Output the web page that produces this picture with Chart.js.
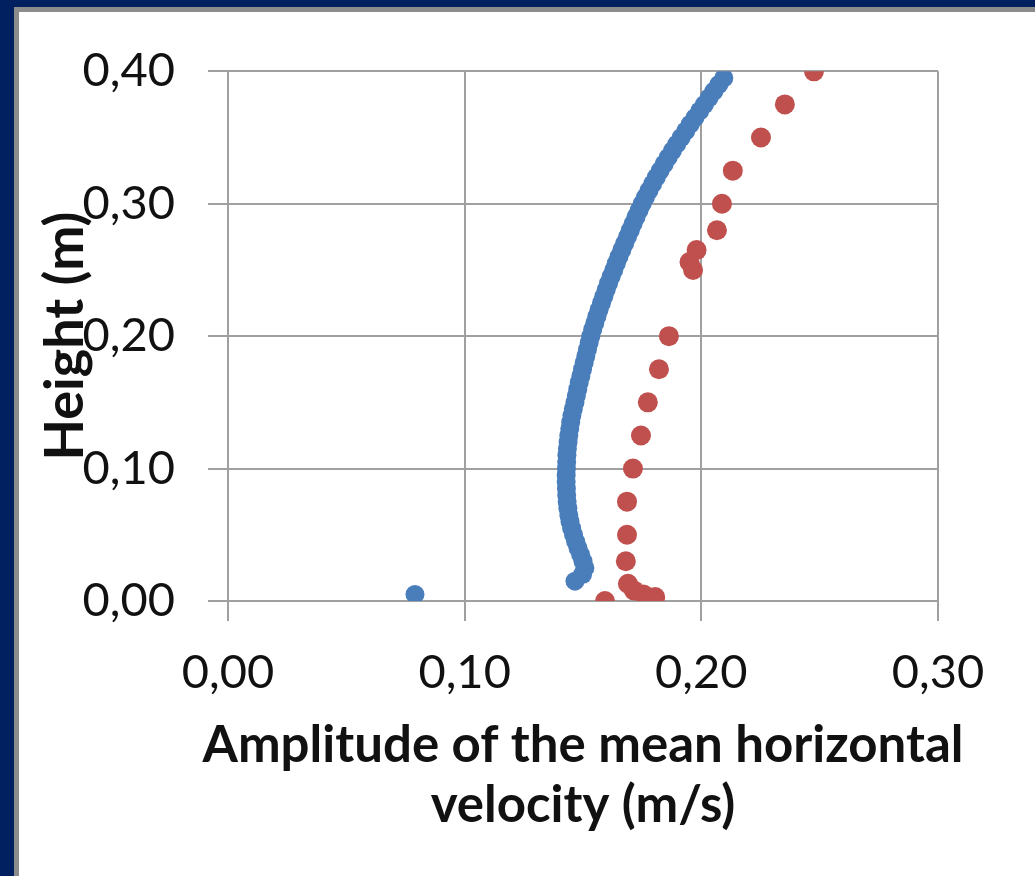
<!DOCTYPE html>
<html>
<head>
<meta charset="utf-8">
<script src="https://cdn.jsdelivr.net/npm/chart.js@4"></script>
<style>
  html, body { margin: 0; padding: 0; }
  body { width: 1035px; height: 876px; background: #002060; overflow: hidden; position: relative; }
  .panel {
    position: absolute; left: 14px; top: 7px; width: 1016px; height: 864px;
    background: #fff; border-left: 5px solid #8c8c8c; border-top: 5px solid #8c8c8c;
  }
  .wrap { position: relative; width: 1016px; height: 864px; }
</style>
</head>
<body>
<div class="panel"><div class="wrap"><canvas id="chart"></canvas></div></div>
<script>
// blue profile (dense measurement), first entry is the near-bed outlier
const blueHeight = [
  0.005, 0.015, 0.020, 0.025, 0.030, 0.035, 0.040, 0.045, 0.050, 0.055,
  0.060, 0.065, 0.070, 0.075, 0.080, 0.085, 0.090, 0.095, 0.100, 0.105,
  0.110, 0.115, 0.120, 0.125, 0.130, 0.135, 0.140, 0.145, 0.150, 0.155,
  0.160, 0.165, 0.170, 0.175, 0.180, 0.185, 0.190, 0.195, 0.200, 0.205,
  0.210, 0.215, 0.220, 0.225, 0.230, 0.235, 0.240, 0.245, 0.250, 0.255,
  0.260, 0.265, 0.270, 0.275, 0.280, 0.285, 0.290, 0.295, 0.300, 0.305,
  0.310, 0.315, 0.320, 0.325, 0.330, 0.335, 0.340, 0.345, 0.350, 0.355,
  0.360, 0.365, 0.370, 0.375, 0.380, 0.385, 0.390, 0.395
];
const blueVelocity = [
  0.0790, 0.1466, 0.1498, 0.1508, 0.1500, 0.1490, 0.1479, 0.1469, 0.1460, 0.1452,
  0.1445, 0.1440, 0.1436, 0.1433, 0.1431, 0.1430, 0.1429, 0.1429, 0.1430, 0.1431,
  0.1432, 0.1434, 0.1437, 0.1440, 0.1444, 0.1448, 0.1453, 0.1459, 0.1466, 0.1472,
  0.1478, 0.1484, 0.1491, 0.1498, 0.1505, 0.1512, 0.1519, 0.1526, 0.1533, 0.1541,
  0.1550, 0.1559, 0.1568, 0.1578, 0.1588, 0.1598, 0.1608, 0.1619, 0.1630, 0.1641,
  0.1652, 0.1664, 0.1676, 0.1688, 0.1700, 0.1712, 0.1724, 0.1737, 0.1750, 0.1764,
  0.1779, 0.1794, 0.1810, 0.1826, 0.1843, 0.1860, 0.1878, 0.1896, 0.1915, 0.1934,
  0.1953, 0.1973, 0.1993, 0.2013, 0.2033, 0.2053, 0.2074, 0.2095
];

// red profile (sparse measurement)
const redHeight = [
  0.000, 0.003, 0.005, 0.008, 0.013, 0.030, 0.050, 0.075, 0.100, 0.125,
  0.150, 0.175, 0.200, 0.250, 0.256, 0.265, 0.280, 0.300, 0.325, 0.350,
  0.375, 0.400
];
const redVelocity = [
  0.1593, 0.1805, 0.1755, 0.1715, 0.1690, 0.1681, 0.1686, 0.1686, 0.1711, 0.1745,
  0.1774, 0.1821, 0.1863, 0.1965, 0.1950, 0.1980, 0.2066, 0.2087, 0.2133, 0.2252,
  0.2353, 0.2476
];

const xTicks = [0, 0.1, 0.2, 0.3];
const yTicks = [0, 0.1, 0.2, 0.3, 0.4];

const xTitle = ["Amplitude of the mean horizontal", "velocity (m/s)"];
const yTitle = "Height (m)";

const toPoints = (xs, ys) => xs.map((x, i) => ({ x: x, y: ys[i] }));
const fmt = (v) => Number(v).toFixed(2).replace(".", ",");
const gridColor = "#a0a0a0";

// the x title is wider than the plot, so Chart.js would squeeze it; draw it here instead
const xTitlePlugin = {
  id: "xTitle",
  afterDraw(chart) {
    const { ctx, chartArea } = chart;
    const cx = (chartArea.left + chartArea.right) / 2;
    ctx.save();
    ctx.font = "bold 51px Lato";
    ctx.fillStyle = "#111";
    ctx.textAlign = "center";
    ctx.textBaseline = "alphabetic";
    xTitle.forEach((line, i) => {
      ctx.fillText(line, cx, chartArea.bottom + 161 + i * 60);
    });
    ctx.restore();
  },
};

new Chart(document.getElementById("chart"), {
  type: "scatter",
  data: {
    datasets: [
      {
        label: "blue",
        data: toPoints(blueVelocity, blueHeight),
        backgroundColor: "#4a7ebb",
        borderColor: "#4a7ebb",
        borderWidth: 0,
        pointRadius: 9.5,
        pointHoverRadius: 9.5,
      },
      {
        label: "red",
        data: toPoints(redVelocity, redHeight),
        backgroundColor: "#c0504d",
        borderColor: "#c0504d",
        borderWidth: 0,
        pointRadius: 10,
        pointHoverRadius: 10,
      },
    ],
  },
  options: {
    responsive: true,
    maintainAspectRatio: false,
    animation: false,
    layout: {
      padding: { left: 0, right: 97, top: 56, bottom: 0 },
    },
    scales: {
      x: {
        type: "linear",
        min: 0,
        max: 0.3,
        afterBuildTicks: (s) => { s.ticks = xTicks.map((v) => ({ value: v })); },
        afterFit: (s) => { s.height = 275; },
        border: { color: gridColor, width: 2 },
        grid: { color: gridColor, lineWidth: 2, tickLength: 20, tickColor: gridColor },
        ticks: {
          padding: 24,
          color: "#111",
          font: { family: "Lato", size: 47 },
          callback: (v) => fmt(v),
        },
        title: { display: false },
      },
      y: {
        type: "linear",
        min: 0,
        max: 0.4,
        afterBuildTicks: (s) => { s.ticks = yTicks.map((v) => ({ value: v })); },
        afterFit: (s) => { s.width = 209; },
        border: { color: gridColor, width: 2 },
        grid: { color: gridColor, lineWidth: 2, tickLength: 20, tickColor: gridColor },
        ticks: {
          padding: 33,
          color: "#111",
          font: { family: "Lato", size: 47, lineHeight: 1.12 },
          callback: (v) => fmt(v),
        },
        title: {
          display: true,
          text: yTitle,
          color: "#111",
          font: { family: "Lato", size: 54, weight: "bold" },
          padding: { top: 14, bottom: 0 },
        },
      },
    },
    plugins: {
      legend: { display: false },
      tooltip: { enabled: false },
    },
  },
  plugins: [xTitlePlugin],
});
</script>
</body>
</html>
